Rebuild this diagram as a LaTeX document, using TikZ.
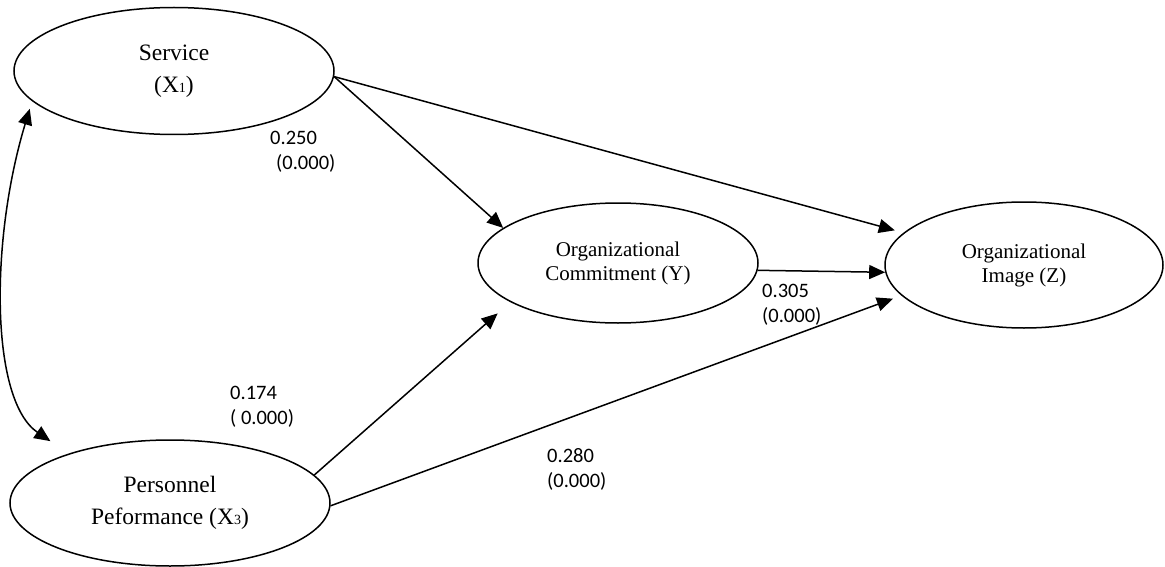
\documentclass[tikz,border=0pt]{standalone}
\usepackage{fontspec}
\setmainfont{Liberation Serif}
\newfontfamily\lblfont{Carlito}
\usetikzlibrary{shapes.geometric,arrows.meta}
\newcommand{\idx}[1]{{\fontsize{14}{14}\selectfont #1}}

\begin{document}
\begin{tikzpicture}[x=1pt,y=-1pt,
  var/.style={draw,ellipse,line width=1.5pt,inner sep=0pt,align=center},
  big/.style={var,minimum width=320pt,minimum height=127pt,font=\fontsize{23.5}{32}\selectfont},
  small/.style={var,minimum width=280pt,minimum height=121pt,font=\fontsize{21}{24}\selectfont},
  link/.style={-{Triangle[length=16pt,width=14pt]},line width=1.5pt},
  coef/.style={anchor=west,inner sep=0pt,align=left,font=\lblfont\fontsize{20.5}{25}\selectfont}]

\useasboundingbox (0,0) rectangle (1165,567);

% latent variables
\node[big] (svc) at (174,71) {Service\\(X\idx{1})};
\node[big,minimum height=126pt] (pers) at (170,503) {Personnel\\Peformance (X\idx{3})};
\node[small,minimum height=120pt] (com) at (618,263) {Organizational\\Commitment (Y)};
\node[small,minimum width=278pt,minimum height=126pt] (img) at (1024,265) {Organizational\\Image (Z)};

% paths
\draw[link] (svc.-2) -- (com.163);
\draw[link,shorten >=9pt] (svc.-2) -- (img.165);
\draw[link] (com.-3) -- (img.183);
\draw[link,shorten >=17pt] (pers.11) -- (com.200);
\draw[link,shorten >=9pt] (pers.-1) -- (img.194);

% X1 <-> X3
\draw[{Triangle[length=16pt,width=14pt]}-{Triangle[length=16pt,width=14pt]},line width=1.5pt,
  shorten <=8pt,shorten >=22pt] (svc.192) .. controls (-10,240) and (-10,400) .. (pers.154);

% coefficients
\node[coef] (b1) at (270,152) {0.250\\\hspace*{6pt}(0.000)};
\node[coef] (b2) at (230,407) {0.174\\( 0.000)};
\node[coef] (b3) at (762,305) {0.305\\(0.000)};
\node[coef] (b4) at (547,469) {0.280\\(0.000)};

\end{tikzpicture}
\end{document}
